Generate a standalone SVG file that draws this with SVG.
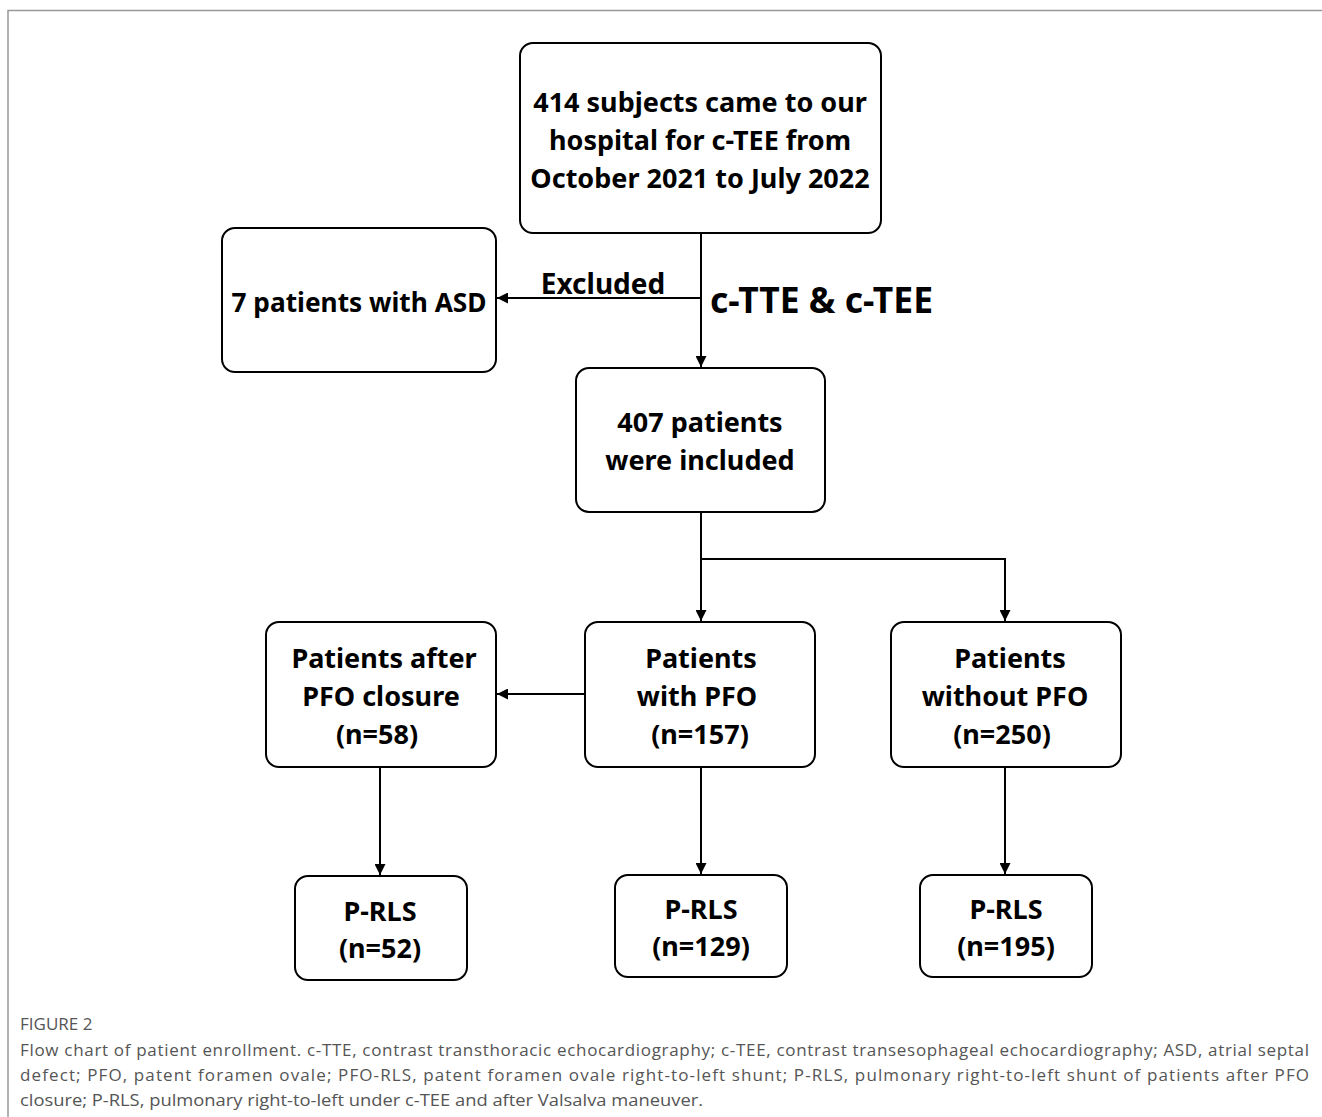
<svg xmlns="http://www.w3.org/2000/svg" width="1322" height="1117" viewBox="0 0 1322 1117">
<defs>
<marker id="arr" viewBox="0 0 10 10" refX="10" refY="5" markerWidth="11" markerHeight="11" markerUnits="userSpaceOnUse" orient="auto">
<path d="M0,0 L10,5 L0,10 Z" fill="#000"/>
</marker>
<style>
.box{fill:#fff;stroke:#000;stroke-width:2}
.t{font-family:"Noto Sans","Open Sans","Liberation Sans",sans-serif;font-weight:bold;font-size:27px;fill:#000;text-anchor:middle}
.lbl{font-family:"Noto Sans","Open Sans","Liberation Sans",sans-serif;font-weight:bold;fill:#000}
.c{stroke:#000;stroke-width:2;fill:none}
.cap{font-family:"Open Sans","Noto Sans","Liberation Sans",sans-serif;font-size:17px;fill:#555}
</style>
</defs>
<rect width="1322" height="1117" fill="#fff"/>
<path d="M8,1117 V10.5 H1322" fill="none" stroke="#999" stroke-width="1.5"/>

<g id="connectors">
<path class="c" d="M701,233 V367" marker-end="url(#arr)"/>
<path class="c" d="M701,298 H497" marker-end="url(#arr)"/>
<path class="c" d="M701,512 V559 H1005 V621" marker-end="url(#arr)"/>
<path class="c" d="M701,559 V621" marker-end="url(#arr)"/>
<path class="c" d="M585,694 H497" marker-end="url(#arr)"/>
<path class="c" d="M380,767 V875" marker-end="url(#arr)"/>
<path class="c" d="M701,767 V874" marker-end="url(#arr)"/>
<path class="c" d="M1005,767 V874" marker-end="url(#arr)"/>
<text class="lbl" x="603" y="294" font-size="28" text-anchor="middle">Excluded</text>
<text class="lbl" x="710" y="313" font-size="35" textLength="223" lengthAdjust="spacingAndGlyphs">c-TTE &amp; c-TEE</text>
</g>

<g id="n-start">
<rect class="box" x="520" y="43" width="361" height="190" rx="13"/>
<text class="t" x="700" y="112">414 subjects came to our</text>
<text class="t" x="700" y="150">hospital for c-TEE from</text>
<text class="t" x="700" y="188">October 2021 to July 2022</text>
</g>

<g id="n-asd">
<rect class="box" x="222" y="228" width="274" height="144" rx="13"/>
<text class="t" x="359" y="312" textLength="255" lengthAdjust="spacingAndGlyphs">7 patients with ASD</text>
</g>

<g id="n-included">
<rect class="box" x="576" y="368" width="249" height="144" rx="13"/>
<text class="t" x="700" y="432">407 patients</text>
<text class="t" x="700" y="470">were included</text>
</g>

<g id="n-closure">
<rect class="box" x="266" y="622" width="230" height="145" rx="13"/>
<text class="t" x="384" y="668">Patients after</text>
<text class="t" x="381" y="706">PFO closure</text>
<text class="t" x="377" y="744">(n=58)</text>
</g>

<g id="n-pfo">
<rect class="box" x="585" y="622" width="230" height="145" rx="13"/>
<text class="t" x="701" y="668">Patients</text>
<text class="t" x="697" y="706">with PFO</text>
<text class="t" x="700" y="744">(n=157)</text>
</g>

<g id="n-nopfo">
<rect class="box" x="891" y="622" width="230" height="145" rx="13"/>
<text class="t" x="1010" y="668">Patients</text>
<text class="t" x="1005" y="706">without PFO</text>
<text class="t" x="1002" y="744">(n=250)</text>
</g>

<g id="n-prls1">
<rect class="box" x="295" y="876" width="172" height="104" rx="13"/>
<text class="t" x="380" y="921">P-RLS</text>
<text class="t" x="380" y="958">(n=52)</text>
</g>

<g id="n-prls2">
<rect class="box" x="615" y="875" width="172" height="102" rx="13"/>
<text class="t" x="701" y="919">P-RLS</text>
<text class="t" x="701" y="956">(n=129)</text>
</g>

<g id="n-prls3">
<rect class="box" x="920" y="875" width="172" height="102" rx="13"/>
<text class="t" x="1006" y="919">P-RLS</text>
<text class="t" x="1006" y="956">(n=195)</text>
</g>

<g id="caption">
<text class="cap" x="20" y="1030" font-size="13">FIGURE 2</text>
<text class="cap" x="20" y="1056" textLength="1289" lengthAdjust="spacing">Flow chart of patient enrollment. c-TTE, contrast transthoracic echocardiography; c-TEE, contrast transesophageal echocardiography; ASD, atrial septal</text>
<text class="cap" x="20" y="1081" textLength="1289" lengthAdjust="spacing">defect; PFO, patent foramen ovale; PFO-RLS, patent foramen ovale right-to-left shunt; P-RLS, pulmonary right-to-left shunt of patients after PFO</text>
<text class="cap" x="20" y="1106" textLength="683" lengthAdjust="spacingAndGlyphs">closure; P-RLS, pulmonary right-to-left under c-TEE and after Valsalva maneuver.</text>
</g>
</svg>
